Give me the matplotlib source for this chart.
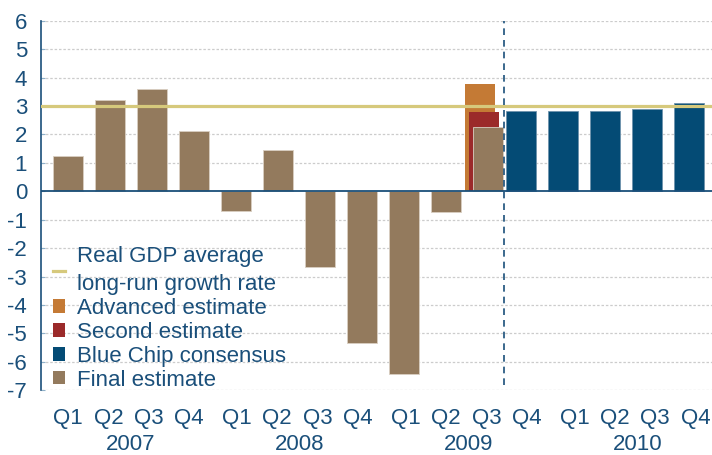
import matplotlib
matplotlib.use("Agg")
import matplotlib.pyplot as plt
from matplotlib.patches import Patch
from matplotlib.lines import Line2D

plt.rcParams['font.family'] = ['Liberation Sans', 'DejaVu Sans']
plt.rcParams['axes.unicode_minus'] = False

quarters = ["Q1", "Q2", "Q3", "Q4"]
years = ["2007", "2008", "2009", "2010"]

final_estimate = [1.23, 3.22, 3.59, 2.13, -0.70, 1.46, -2.67, -5.35, -6.41, -0.74, 2.26]
advanced_estimate = 3.78
second_estimate = 2.80
blue_chip = [2.82, 2.82, 2.82, 2.90, 3.10]
long_run_rate = 3.0

C_TEXT = "#1a4f7a"
C_BROWN = "#937a5d"
C_ORANGE = "#c47a35"
C_RED = "#9b2a2a"
C_BLUE = "#044b75"
C_YELLOW = "#d6c97c"
FS = 16

fig = plt.figure(figsize=(7.12, 4.55), dpi=100)
ax = fig.add_axes([41/712, (455-390.3)/455, 1-41/712, (390.3-20.7)/455])

W = 0.72
n_final = len(final_estimate)
fx = list(range(n_final))
bx = [n_final + i - 0.21 for i in range(len(blue_chip))]
q3 = n_final - 1

ax.set_ylim(-7, 6)
ax.set_xlim(-0.643, 15.33)
ax.set_yticks(range(-7, 7))
for y in range(-7, 7):
    if y != 0:
        ax.axhline(y, color="#cccccc", lw=0.9, ls=(0, (2, 1.5)), zorder=0)

ax.bar(q3 - 0.2, advanced_estimate, width=W, color=C_ORANGE, zorder=2)
ax.bar(q3 - 0.09, second_estimate, width=W, color=C_RED, zorder=3)
ax.bar(fx, final_estimate, width=W, color=C_BROWN, edgecolor="#d9cfc2", linewidth=0.6, zorder=4)
ax.bar(bx, blue_chip, width=W, color=C_BLUE, edgecolor="#6f93ad", linewidth=0.6, zorder=4)

ax.axhline(0, color=C_TEXT, lw=1.3, zorder=5)
ax.axhline(long_run_rate, color=C_YELLOW, lw=2.3, zorder=6)
ax.axvline(10.38, ymin=0.014, ymax=1.0, color=C_TEXT, lw=1.2, ls=(0, (4, 3)), zorder=6)

for s in ["top", "right", "bottom"]:
    ax.spines[s].set_visible(False)
ax.spines["left"].set_color(C_TEXT)
ax.spines["left"].set_linewidth(1.2)

ax.tick_params(axis="y", direction="in", length=3, color="#8fb0c8", labelsize=FS,
               labelcolor=C_TEXT, pad=10)

tick_pos = [4.02 * yi + 0.96 * qi for yi in range(len(years)) for qi in range(4)]
tick_lab = [q for _ in years for q in quarters]
ax.set_xticks(tick_pos)
ax.set_xticklabels(tick_lab)
ax.tick_params(axis="x", length=0, labelsize=FS, labelcolor=C_TEXT, pad=12.5)

for yi, yr in enumerate(years):
    xc = 4.02 * yi + 1.44 + 0.06
    ax.text(xc, -0.1605, yr, transform=ax.get_xaxis_transform(), ha="center", va="baseline",
            fontsize=FS, color=C_TEXT)

handles = [
    Line2D([0], [0], color=C_YELLOW, lw=2.3),
    Patch(facecolor=C_ORANGE),
    Patch(facecolor=C_RED),
    Patch(facecolor=C_BLUE),
    Patch(facecolor=C_BROWN),
]
labels = ["Real GDP average\nlong-run growth rate", "Advanced estimate", "Second estimate",
          "Blue Chip consensus", "Final estimate"]
leg = ax.legend(handles, labels, loc="upper left", bbox_to_anchor=(0.005, 0.415),
                frameon=False, fontsize=FS, handlelength=0.55, handleheight=0.55,
                handletextpad=0.5, labelspacing=0.13, borderaxespad=0)
for t in leg.get_texts():
    t.set_color(C_TEXT)
    t.set_linespacing(1.45)

fig.savefig("out.png", dpi=100)
